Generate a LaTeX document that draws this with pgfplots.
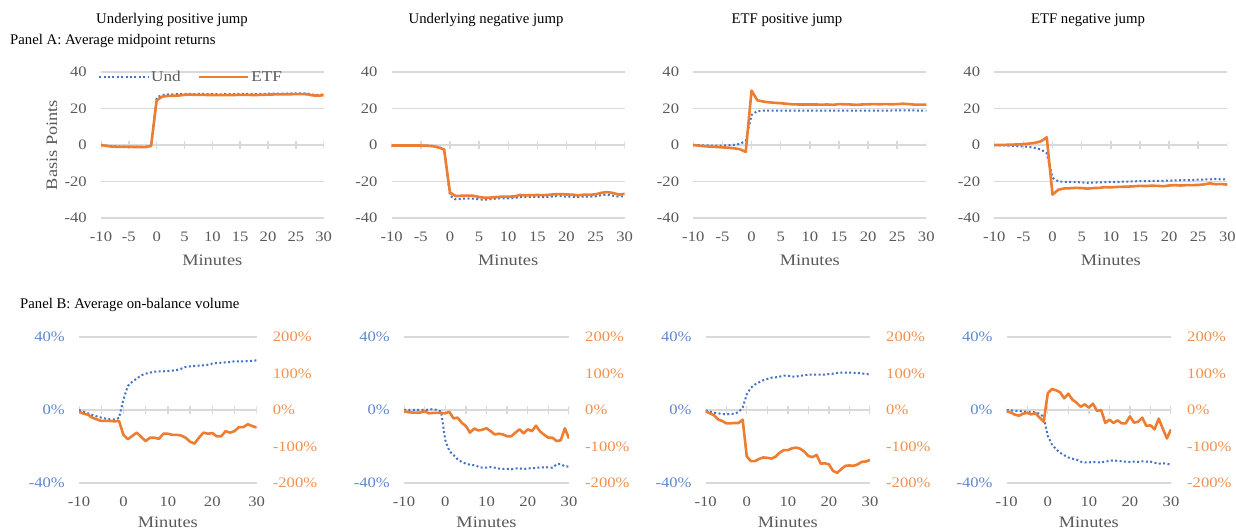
\documentclass[border=0pt]{standalone}
\usepackage{fontspec}
\setmainfont{Liberation Serif}
\newfontfamily\minc{Liberation Serif}[FakeStretch=1.15]
\usepackage{pgfplots}
\pgfplotsset{compat=1.18}
\usepackage{pgfplotstable}
\definecolor{cblue}{HTML}{4472C4}
\definecolor{corange}{HTML}{ED7D31}
\definecolor{cgrid}{HTML}{D9D9D9}
\definecolor{ctext}{HTML}{595959}

% Panel A tables: minute, Und, ETF (basis points)
\pgfplotstableread{
m und etf
-10 0 0
-9 -0.4 -0.5
-8 -0.7 -0.9
-7 -0.8 -1.0
-6 -0.9 -1.0
-5 -0.9 -1.0
-4 -1.0 -1.1
-3 -1.0 -1.1
-2 -1.0 -1.2
-1 -0.6 -0.4
0 26.0 24.5
1 27.4 26.5
2 27.7 26.9
3 27.8 27.0
4 27.9 27.1
5 28.0 27.5
6 28.0 27.6
7 27.9 27.5
8 28.0 27.5
9 27.9 27.4
10 27.9 27.4
11 27.8 27.3
12 27.8 27.3
13 27.9 27.3
14 27.9 27.4
15 28.0 27.5
16 28.0 27.5
17 28.0 27.4
18 27.9 27.4
19 28.0 27.5
20 28.1 27.6
21 28.1 27.7
22 28.2 27.7
23 28.2 27.8
24 28.2 27.8
25 28.3 27.9
26 28.3 27.9
27 28.2 27.8
28 27.6 27.2
29 27.5 27.0
30 27.6 27.3
}\tAa
\pgfplotstableread{
m und etf
-10 -0.3 -0.3
-9 -0.3 -0.3
-8 -0.3 -0.3
-7 -0.3 -0.3
-6 -0.3 -0.3
-5 -0.3 -0.3
-4 -0.4 -0.4
-3 -0.6 -0.6
-2 -1.2 -1.3
-1 -2.0 -2.5
0 -27.8 -26.0
1 -29.8 -28.0
2 -29.5 -27.8
3 -29.3 -27.7
4 -29.4 -27.8
5 -29.8 -28.5
6 -30.0 -28.9
7 -29.7 -28.8
8 -29.3 -28.5
9 -29.2 -28.3
10 -29.2 -28.3
11 -29.1 -28.2
12 -28.5 -27.4
13 -28.5 -27.6
14 -28.4 -27.5
15 -28.5 -27.4
16 -28.6 -27.5
17 -28.4 -27.3
18 -28.1 -27.0
19 -28.0 -26.9
20 -28.3 -27.1
21 -28.4 -27.2
22 -28.5 -27.6
23 -28.2 -27.2
24 -28.3 -27.3
25 -28.1 -27.0
26 -27.5 -26.2
27 -27.2 -25.8
28 -27.8 -26.3
29 -28.3 -27.2
30 -28.0 -26.8
}\tAb
\pgfplotstableread{
m und etf
-10 0 0
-9 -0.1 -0.4
-8 -0.2 -0.7
-7 -0.3 -0.9
-6 -0.3 -1.1
-5 -0.3 -1.3
-4 -0.2 -1.5
-3 0.1 -1.8
-2 0.6 -2.3
-1 2.2 -3.8
0 16.5 29.8
1 18.6 24.5
2 18.8 23.8
3 18.9 23.4
4 18.9 23.1
5 18.9 22.9
6 18.8 22.6
7 18.8 22.3
8 18.8 22.2
9 18.8 22.2
10 18.8 22.2
11 18.8 22.2
12 18.8 22.1
13 18.8 22.2
14 18.8 22.0
15 18.9 22.4
16 18.9 22.3
17 18.8 22.2
18 18.8 22.0
19 18.8 22.2
20 18.8 22.3
21 18.9 22.4
22 18.9 22.3
23 18.9 22.4
24 18.9 22.3
25 19.0 22.4
26 19.0 22.6
27 19.0 22.4
28 18.9 22.1
29 18.9 22.1
30 18.9 22.1
}\tAc
\pgfplotstableread{
m und etf
-10 -0.1 0
-9 -0.2 0
-8 -0.3 0.1
-7 -0.4 0.2
-6 -0.6 0.3
-5 -0.8 0.5
-4 -1.1 0.8
-3 -1.6 1.2
-2 -2.5 2.0
-1 -4.5 4.2
0 -18.0 -27.2
1 -20.0 -24.5
2 -20.2 -23.8
3 -20.2 -23.7
4 -20.3 -23.5
5 -20.5 -23.6
6 -20.7 -23.9
7 -20.6 -23.6
8 -20.5 -23.5
9 -20.4 -23.1
10 -20.2 -23.2
11 -20.2 -23.0
12 -20.1 -22.9
13 -20.0 -22.8
14 -19.9 -22.6
15 -19.8 -22.4
16 -19.8 -22.5
17 -19.7 -22.3
18 -19.7 -22.4
19 -19.6 -22.6
20 -19.5 -22.2
21 -19.4 -22.0
22 -19.3 -22.2
23 -19.3 -22.0
24 -19.2 -22.0
25 -19.0 -21.9
26 -18.9 -21.6
27 -18.8 -21.0
28 -18.7 -21.5
29 -18.8 -21.4
30 -18.9 -21.7
}\tAd

% Panel B tables: minute, Und (left axis, %), ETF (right axis, %)
\pgfplotstableread{
m und etf
-10 0 -4.6
-9 -0.9 -10
-8 -1.8 -12.8
-7 -2.7 -21
-6 -3.5 -25.6
-5 -4.2 -30
-4 -4.7 -30
-3 -5.1 -30
-2 -5.1 -31
-1 -4.4 -30
0 5.8 -68
1 13.2 -80
2 15.5 -71
3 17.2 -62
4 19.0 -74
5 19.9 -85
6 20.5 -76
7 21.0 -76
8 21.2 -79
9 21.2 -65
10 21.4 -65
11 21.6 -68
12 21.9 -68
13 22.6 -70
14 23.6 -76
15 23.9 -87
16 24.1 -92
17 24.3 -76
18 24.5 -62
19 24.8 -65
20 25.4 -63
21 25.8 -72
22 25.9 -72
23 26.1 -58
24 26.3 -62
25 26.7 -58
26 26.7 -47
27 26.7 -47
28 26.8 -39
29 27.0 -44
30 27.2 -48
}\tBa
\pgfplotstableread{
m und etf
-10 0 -3
-9 0 -6
-8 0 -7
-7 0 -7
-6 0 -7
-5 0 -3
-4 0.2 -9
-3 0.5 -8
-2 0 -8
-1 -0.9 -8
0 -16.5 -9
1 -22.5 -5
2 -24.7 -23
3 -27.0 -21
4 -28.5 -35
5 -29.4 -44
6 -30.0 -62
7 -30.3 -51
8 -31.0 -56
9 -31.6 -54
10 -31.6 -50
11 -31.2 -58
12 -31.6 -67
13 -32.1 -65
14 -32.3 -67
15 -32.3 -72
16 -32.5 -72
17 -32.0 -62
18 -32.0 -53
19 -32.3 -64
20 -32.1 -53
21 -31.8 -58
22 -31.8 -43
23 -31.4 -59
24 -31.4 -68
25 -31.4 -76
26 -31.6 -76
27 -29.8 -85
28 -29.6 -83
29 -30.9 -50
30 -31.0 -78
}\tBb
\pgfplotstableread{
m und etf
-10 -0.2 -3.7
-9 -0.9 -9
-8 -1.5 -14
-7 -1.8 -25.6
-6 -2.2 -30
-5 -2.4 -36.5
-4 -2.2 -36.5
-3 -2.0 -35.6
-2 -1.1 -35.6
-1 1.3 -26.5
0 8.6 -127
1 12.2 -140
2 14.0 -140
3 15.2 -134
4 16.3 -130
5 17.0 -131
6 17.7 -133
7 17.9 -128
8 18.3 -117
9 18.8 -110
10 18.8 -110
11 18.3 -105
12 18.3 -103
13 18.8 -106
14 19.0 -114
15 19.4 -126
16 19.4 -129
17 19.4 -123
18 19.4 -147
19 19.4 -146
20 19.7 -149
21 19.9 -167
22 20.3 -172
23 20.5 -162
24 20.5 -153
25 20.5 -152
26 20.3 -153
27 20.3 -149
28 20.1 -142
29 19.7 -141
30 19.5 -137
}\tBc
\pgfplotstableread{
m und etf
-10 0 -3.7
-9 -0.2 -7
-8 -0.4 -12.8
-7 -0.5 -15.5
-6 -0.9 -10
-5 -0.9 -8
-4 -1.1 -12
-3 -1.3 -9
-2 -2.0 -21
-1 -3.8 -32
0 -14.2 45.7
1 -18.8 57.5
2 -21.5 54
3 -23.4 48.4
4 -24.8 32
5 -26.0 44.7
6 -26.7 28.3
7 -27.2 20
8 -28.3 9
9 -28.7 15.5
10 -28.7 6.4
11 -28.5 17.4
12 -28.7 -2.7
13 -28.7 0
14 -28.3 -35.6
15 -27.9 -26.5
16 -27.6 -35.6
17 -27.9 -28.3
18 -28.1 -36.5
19 -28.3 -36.5
20 -28.5 -17.4
21 -28.3 -34.7
22 -28.5 -32
23 -28.1 -21
24 -28.3 -43.8
25 -28.3 -42
26 -28.9 -53
27 -29.4 -23.7
28 -29.2 -51
29 -29.4 -78
30 -30.0 -53
}\tBd

\pgfplotsset{
  base/.style={scale only axis, anchor=south west, xmin=-10, xmax=30,
    axis line style={draw=none}, major tick style={draw=none},
    ymajorgrids, grid style={cgrid, line width=1.2bp},
    ticklabel style={font=\minc\fontsize{14.5}{16}\selectfont},
    xticklabel style={anchor=center, yshift=-19bp, text=ctext},
    yticklabel style={anchor=east, inner sep=0pt, xshift=-14bp}},
  topax/.style={base, width=#1, height=146bp, ymin=-40, ymax=40,
    ytick={-40,-20,0,20,40}, yticklabels={-40,-20,0,20,40},
    yticklabel style={text=ctext},
    xtick={-10,-5,0,5,10,15,20,25,30},
    xticklabels={-10,-5,0,5,10,15,20,25,30}},
  botleft/.style={base, width=#1, height=146bp, ymin=-40, ymax=40,
    ytick={-40,0,40}, yticklabels={-40\%,0\%,40\%},
    yticklabel style={text=cblue!85},
    xtick={-10,0,10,20,30}, xticklabels={-10,0,10,20,30}},
  botright/.style={scale only axis, anchor=south west, width=#1, height=146bp,
    xmin=-10, xmax=30, ymin=-200, ymax=200,
    axis line style={draw=none}, major tick style={draw=none},
    xtick=\empty, yticklabel pos=right,
    ytick={-200,-100,0,100,200}, yticklabels={-200\%,-100\%,0\%,100\%,200\%},
    ticklabel style={font=\minc\fontsize{14.5}{16}\selectfont},
    yticklabel style={anchor=west, inner sep=0pt, xshift=16bp, text=corange!85}},
  und/.style={cblue, line width=2bp, dash pattern=on 2bp off 2.4bp},
  etf/.style={corange, line width=2.6bp, line join=round},
}
\newcommand{\zeroaxis}{%
  \draw[cgrid, line width=2bp] (axis cs:-10,0) -- (axis cs:30,0);
  \pgfplotsinvokeforeach{-10,-5,0,5,10,15,20,25,30}{\draw[cgrid, line width=1.4bp] (axis cs:##1,-2.2) -- (axis cs:##1,2.2);}%
}

\begin{document}
\begin{tikzpicture}
\path[use as bounding box] (0bp,0bp) rectangle (1236bp,529bp);

% ---------- Panel A ----------
\begin{axis}[topax=222.7bp, at={(101bp,311bp)},
  legend style={at={(-0.0135,0.966)}, anchor=west, draw=none, fill=none,
    font=\minc\fontsize{15}{16}\selectfont, text=ctext, inner sep=0pt,
    /tikz/every even column/.append style={column sep=15bp}},
  legend columns=2,
  legend image code/.code={\draw[#1] (0bp,0bp) -- (49bp,0bp);}]
\zeroaxis
\addplot[und] table[x=m, y=und] {\tAa};
\addplot[etf] table[x=m, y=etf] {\tAa};
\legend{Und, ETF}
\end{axis}

\begin{axis}[topax=233bp, at={(391.7bp,311bp)}]
\zeroaxis
\addplot[und] table[x=m, y=und] {\tAb};
\addplot[etf] table[x=m, y=etf] {\tAb};
\end{axis}

\begin{axis}[topax=233bp, at={(693.3bp,311bp)}]
\zeroaxis
\addplot[und] table[x=m, y=und] {\tAc};
\addplot[etf] table[x=m, y=etf] {\tAc};
\end{axis}

\begin{axis}[topax=233bp, at={(994.3bp,311bp)}]
\zeroaxis
\addplot[und] table[x=m, y=und] {\tAd};
\addplot[etf] table[x=m, y=etf] {\tAd};
\end{axis}

% ---------- Panel B ----------
\begin{axis}[botleft=177.7bp, at={(79bp,46bp)}]
\zeroaxis
\addplot[und] table[x=m, y=und] {\tBa};
\end{axis}
\begin{axis}[botright=177.7bp, at={(79bp,46bp)}]
\addplot[etf] table[x=m, y=etf] {\tBa};
\end{axis}

\begin{axis}[botleft=165bp, at={(404bp,46bp)}]
\zeroaxis
\addplot[und] table[x=m, y=und] {\tBb};
\end{axis}
\begin{axis}[botright=165bp, at={(404bp,46bp)}]
\addplot[etf] table[x=m, y=etf] {\tBb};
\end{axis}

\begin{axis}[botleft=164.3bp, at={(705.7bp,46bp)}]
\zeroaxis
\addplot[und] table[x=m, y=und] {\tBc};
\end{axis}
\begin{axis}[botright=164.3bp, at={(705.7bp,46bp)}]
\addplot[etf] table[x=m, y=etf] {\tBc};
\end{axis}

\begin{axis}[botleft=164.3bp, at={(1006.7bp,46bp)}]
\zeroaxis
\addplot[und] table[x=m, y=und] {\tBd};
\end{axis}
\begin{axis}[botright=164.3bp, at={(1006.7bp,46bp)}]
\addplot[etf] table[x=m, y=etf] {\tBd};
\end{axis}

% ---------- Texts ----------
\begin{scope}[every node/.style={font=\fontsize{14.8}{16}\selectfont, inner sep=0pt}]
\node at (172bp,509bp) {Underlying positive jump};
\node at (486bp,509bp) {Underlying negative jump};
\node at (787bp,509bp) {ETF positive jump};
\node at (1088bp,509bp) {ETF negative jump};
\node[anchor=west] at (10bp,488bp) {Panel A: Average midpoint returns};
\node[anchor=west] at (20bp,224bp) {Panel B: Average on-balance volume};
\end{scope}
\begin{scope}[every node/.style={font=\minc\fontsize{16}{18}\selectfont, inner sep=0pt, text=ctext}]
\node[rotate=90] at (52bp,384bp) {Basis Points};
\node at (212.3bp,269bp) {Minutes};
\node at (508.2bp,269bp) {Minutes};
\node at (809.8bp,269bp) {Minutes};
\node at (1110.8bp,269bp) {Minutes};
\node[anchor=south] at (167.8bp,1.5bp) {Minutes};
\node[anchor=south] at (486.5bp,1.5bp) {Minutes};
\node[anchor=south] at (787.8bp,1.5bp) {Minutes};
\node[anchor=south] at (1088.8bp,1.5bp) {Minutes};
\end{scope}
\end{tikzpicture}
\end{document}
